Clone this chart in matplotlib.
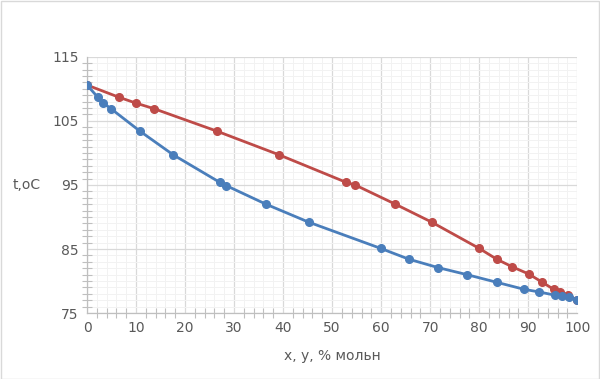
import matplotlib
matplotlib.use("Agg")
import matplotlib.pyplot as plt
from matplotlib.ticker import MultipleLocator
from matplotlib.patches import Rectangle

# liquid composition (x) vs temperature
x_liq = [0, 2.2, 3.3, 4.9, 10.8, 17.6, 27.1, 28.4, 36.5, 45.2, 59.9, 65.7,
         71.6, 77.5, 83.6, 89.2, 92.2, 95.4, 96.9, 98.4, 100]
t_liq = [110.6, 108.7, 107.8, 106.9, 103.4, 99.7, 95.4, 94.9, 92.0, 89.2, 85.1,
         83.4, 82.1, 81.0, 79.8, 78.7, 78.3, 77.8, 77.6, 77.5, 77.0]
# vapour composition (y) vs temperature
y_vap = [0, 6.5, 9.9, 13.7, 26.5, 39.2, 52.9, 54.7, 62.9, 70.3, 80.0, 83.6,
         86.8, 90.1, 92.9, 95.2, 96.5, 98.1, 100]
t_vap = [110.6, 108.7, 107.8, 106.9, 103.4, 99.7, 95.4, 95.0, 92.0, 89.2, 85.1,
         83.4, 82.2, 81.1, 79.8, 78.7, 78.3, 77.8, 77.0]

xticks = [0, 10, 20, 30, 40, 50, 60, 70, 80, 90, 100]
yticks = [75, 85, 95, 105, 115]

blue = '#4a7ebb'
red = '#be4b48'
gray = '#595959'

fig = plt.figure(figsize=(6, 3.79), dpi=100)
ax = fig.add_axes([0.145, 0.174, 0.817, 0.676])
fig.patches.append(Rectangle((0.001, 0.001), 0.997, 0.996, transform=fig.transFigure,
                             fill=False, edgecolor='#d9d9d9', linewidth=1))

ax.plot(y_vap, t_vap, color=red, lw=2.0, marker='o', ms=5.5, zorder=3)
ax.plot(x_liq, t_liq, color=blue, lw=2.0, marker='o', ms=5.5, zorder=4)

ax.set_xlim(0, 100)
ax.set_ylim(75, 115)
ax.set_xticks(xticks)
ax.set_yticks(yticks)
ax.xaxis.set_minor_locator(MultipleLocator(2))
ax.yaxis.set_minor_locator(MultipleLocator(1))
ax.grid(which='major', color='#d9d9d9', lw=0.9)
ax.grid(which='minor', color='#f2f2f2', lw=0.7)
ax.set_axisbelow(True)

for s in ['top', 'right']:
    ax.spines[s].set_visible(False)
for s in ['left', 'bottom']:
    ax.spines[s].set_color('#bfbfbf')
    ax.spines[s].set_linewidth(0.9)

ax.tick_params(which='major', length=0, labelsize=10, labelcolor=gray, pad=6)
ax.tick_params(which='minor', direction='inout', length=7, color='#bfbfbf', width=0.8)

ax.set_xlabel('x, y, % мольн', fontsize=10, color=gray, labelpad=10)
ax.set_ylabel('t,oC', fontsize=10, color=gray, rotation=0, labelpad=18, va='center')

fig.savefig('out.png', dpi=100)
